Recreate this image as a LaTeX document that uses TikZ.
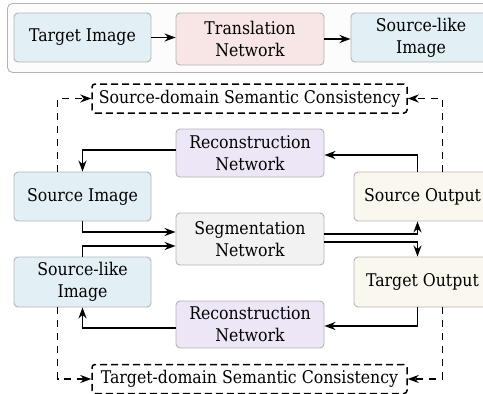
\documentclass[tikz,border=0pt]{standalone}
\usepackage{fontspec}
\setmainfont{DejaVu Serif Condensed}
\usetikzlibrary{arrows.meta,calc}
\definecolor{cblue}{HTML}{E2F0F6}
\definecolor{cpink}{HTML}{F8E5E5}
\definecolor{cviolet}{HTML}{EDE6F6}
\definecolor{cgray}{HTML}{F2F2F2}
\definecolor{ccream}{HTML}{FAF7EF}
\definecolor{couter}{HTML}{FCFCFC}
\definecolor{cborder}{HTML}{B4B4B4}
\begin{document}
\begin{tikzpicture}[x=1pt,y=-1pt,
  box/.style={draw=cborder, line width=0.9pt, rounded corners=4pt, align=center,
    font=\fontsize{17.5}{22}\selectfont, inner sep=0pt},
  dbox/.style={draw=black, line width=1.5pt, dash pattern=on 7pt off 4pt, rounded corners=3pt,
    font=\fontsize{17.5}{22}\selectfont, inner sep=0pt, minimum width=315, minimum height=29},
  arr/.style={-{Stealth[length=11pt,width=8pt]}, line width=1.8pt},
  darr/.style={-{Stealth[length=11pt,width=8pt]}, line width=1.8pt, dash pattern=on 7pt off 6pt}]
\useasboundingbox (0,0) rectangle (483,394);
% top frame
\node[draw=cborder, line width=0.9pt, rounded corners=5pt, fill=couter, minimum width=495, minimum height=69, anchor=north west, inner sep=0pt] (frame) at (7,3) {};
\node[box, fill=cblue, minimum width=137, minimum height=49] (ti) at (82.5,37.5) {Target Image};
\node[box, fill=cpink, minimum width=148, minimum height=52] (tn) at (250,39) {Translation\\Network};
\node[box, fill=cblue, minimum width=140, minimum height=49] (sl) at (421,37.5) {Source-like\\Image};
\draw[arr] (ti.east) -- (ti.east -| tn.west);
\draw[arr] (tn.east) -- (tn.east -| sl.west);
% main
\node[dbox] (sdc) at (249.5,98.5) {Source-domain Semantic Consistency};
\node[box, fill=cviolet, minimum width=148, minimum height=48] (rt) at (250,153) {Reconstruction\\Network};
\node[box, fill=cblue, minimum width=137, minimum height=49] (si) at (82.5,196.5) {Source Image};
\node[box, fill=ccream, minimum width=137, minimum height=49] (so) at (422.5,196.5) {Source Output};
\node[box, fill=cgray, minimum width=148, minimum height=52] (seg) at (250,239) {Segmentation\\Network};
\node[box, fill=cblue, minimum width=137, minimum height=50] (sli) at (82.5,282) {Source-like\\Image};
\node[box, fill=ccream, minimum width=137, minimum height=50] (to) at (422.5,282) {Target Output};
\node[box, fill=cviolet, minimum width=148, minimum height=47] (rb) at (250,324.5) {Reconstruction\\Network};
\node[dbox] (tdc) at (249.5,379) {Target-domain Semantic Consistency};
% arrows
\draw[arr] ($(rt.west)+(0,-3)$) -| (si.north);
\draw[arr] ($(so.north)+(-5,0)$) |- ($(rt.east)+(0,2)$);
\draw[arr] (si.south) |- ($(seg.west)+(0,-7)$);
\draw[arr] (sli.north) |- ($(seg.west)+(0,7)$);
\draw[arr] ($(seg.east)+(0,-5)$) -| ($(so.south)+(-5,0)$);
\draw[arr] ($(seg.east)+(0,3)$) -| ($(to.north)+(-5,0)$);
\draw[arr] ($(to.south)+(-5,0)$) |- ($(rb.east)+(0,1.5)$);
\draw[arr] ($(rb.west)+(0,3.5)$) -| (sli.south);
% dashed
\draw[darr] ($(si.north)+(-25,0)$) |- (sdc.west);
\draw[darr] ($(so.north)+(20,0)$) |- (sdc.east);
\draw[darr] ($(sli.south)+(-25,0)$) |- (tdc.west);
\draw[darr] ($(to.south)+(20,0)$) |- (tdc.east);
\end{tikzpicture}
\end{document}
